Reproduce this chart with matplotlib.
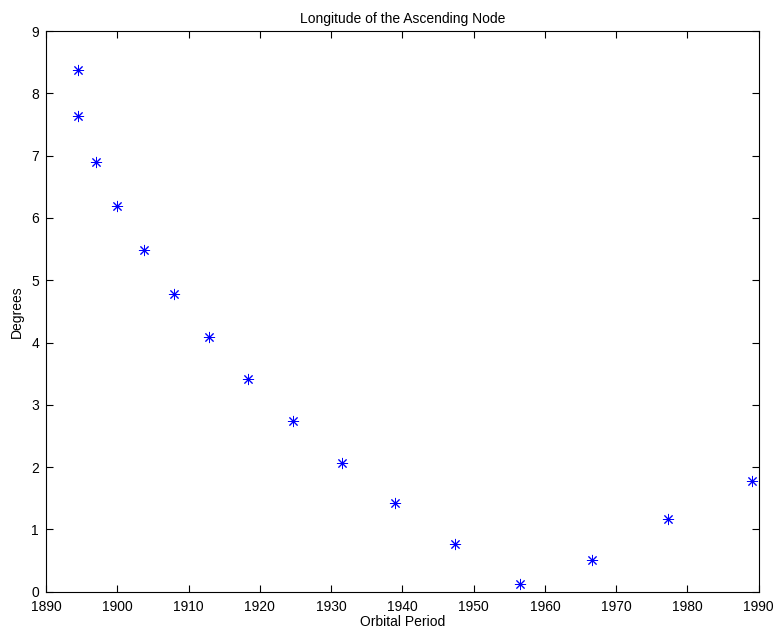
import matplotlib
matplotlib.use('Agg')
import matplotlib.pyplot as plt
import numpy as np

# orbital period vs. longitude of ascending node
period = [1894.5, 1894.5, 1897.0, 1900.0, 1903.7, 1908.0, 1912.9, 1918.4,
          1924.6, 1931.5, 1939.0, 1947.4, 1956.5, 1966.6, 1977.2, 1989.0]
degrees = [8.37, 7.64, 6.90, 6.19, 5.49, 4.78, 4.09, 3.42,
           2.74, 2.07, 1.42, 0.77, 0.12, 0.51, 1.16, 1.78]

plt.rcParams['font.family'] = ['Liberation Sans', 'DejaVu Sans']

fig = plt.figure(figsize=(7.75, 6.34), dpi=100)
ax = fig.add_axes([0.0594, 0.0667, 0.9196, 0.8843])

ax.plot(period, degrees, linestyle='none', marker=(8, 2, 0), markersize=8,
        markeredgecolor='blue', markeredgewidth=0.7, color='blue')

ax.set_xlim(1890, 1990)
ax.set_ylim(0, 9)
ax.set_xticks(np.arange(1890, 1991, 10))
ax.set_yticks(np.arange(0, 10, 1))
ax.tick_params(direction='in', top=True, right=True, length=5, width=0.8,
               labelsize=10)
ax.tick_params(axis='x', pad=6)
ax.tick_params(axis='y', pad=5)
for s in ax.spines.values():
    s.set_linewidth(0.8)

ax.set_title('Longitude of the Ascending Node', fontsize=10, pad=6)
ax.set_xlabel('Orbital Period', fontsize=10, labelpad=1)
ax.set_ylabel('Degrees', fontsize=10, labelpad=5)

fig.savefig('out.png', dpi=100)
